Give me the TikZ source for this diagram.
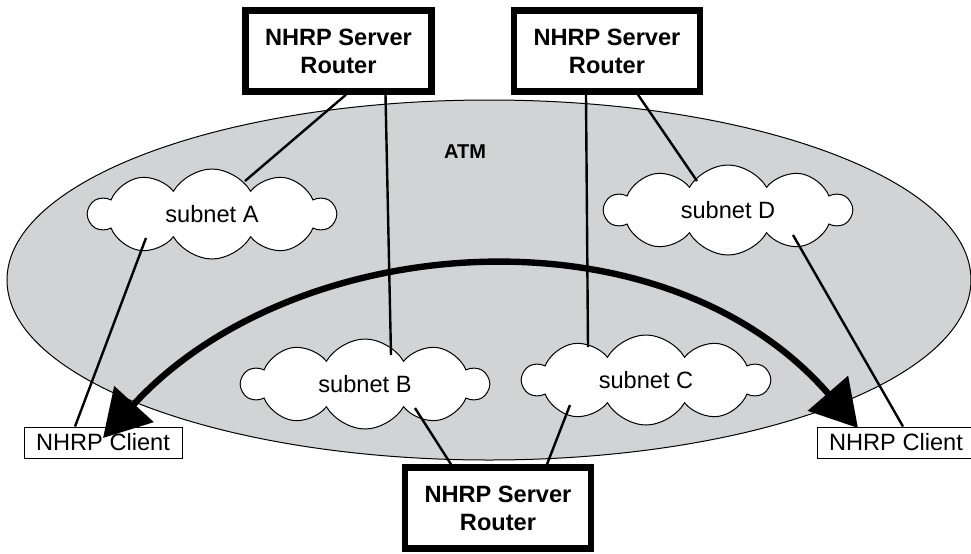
\documentclass[tikz,border=0pt]{standalone}
\usepackage{fontspec}
\setmainfont{Liberation Sans}
\usetikzlibrary{shapes.symbols,arrows.meta}
\definecolor{atmgray}{RGB}{209,211,212}

\begin{document}
\begin{tikzpicture}[x=0.5pt, y=-0.5pt,
    every node/.style={font=\fontsize{11.8}{14}\selectfont},
    server/.style={draw, line width=3.2pt, fill=white, minimum width=93pt, minimum height=40.5pt,
      align=center, font=\fontsize{11.8}{14}\selectfont\bfseries},
    subnet/.style={cloud, cloud puffs=10, cloud puff arc=120, cloud ignores aspect, draw,
      line width=0.5pt, fill=white, minimum width=123pt, minimum height=45pt},
    client/.style={draw, line width=0.5pt, fill=white, minimum width=79pt, minimum height=15.5pt, inner sep=0pt},
    link/.style={line width=1.2pt},
    bigarrow/.style={line width=3.2pt, <->, >={Triangle[length=23pt,width=26pt]}}]
  \useasboundingbox (0,0) rectangle (971,553);
  % ATM area
  \draw[line width=0.5pt, fill=atmgray] (489,280) ellipse [x radius=241pt, y radius=90pt];
  \node[font=\fontsize{10}{12}\selectfont\bfseries] (atm) at (465,152) {ATM};

  % servers
  \node[server] (srvAB) at (338.5,51) {NHRP Server\\Router};
  \node[server] (srvCD) at (607,51) {NHRP Server\\Router};
  \node[server] (srvBC) at (498,508) {NHRP Server\\Router};

  % subnets
  \node[subnet] (subA) at (212,214) {subnet A};
  \node[subnet] (subD) at (728,210) {subnet D};
  \node[subnet] (subB) at (365,384) {subnet B};
  \node[subnet] (subC) at (646,380) {subnet C};

  % clients
  \node[client] (cliL) at (103,442.5) {NHRP Client};
  \node[client] (cliR) at (896,442.5) {NHRP Client};

  % client to client
  \draw[bigarrow] ([shift={(0,-4.5)}]cliL.center) .. controls (293,230) and (662,202) .. ([shift={(-38,-14.5)}]cliR.center);

  % links
  \draw[link] ([shift={(7.5,0)}]srvAB.south) -- ([shift={(33,-33)}]subA.center);
  \draw[link] ([shift={(47,0)}]srvAB.south) -- ([shift={(26,-29)}]subB.center);
  \draw[link] ([shift={(-21,0)}]srvCD.south) -- ([shift={(-58,-33)}]subC.center);
  \draw[link] ([shift={(31,0)}]srvCD.south) -- ([shift={(-31,-29)}]subD.center);
  \draw[link] ([shift={(-66,24)}]subA.center) -- ([shift={(-28,0)}]cliL.north);
  \draw[link] ([shift={(65,25)}]subD.center) -- ([shift={(7,0)}]cliR.north);
  \draw[link] ([shift={(50,24)}]subB.center) -- ([shift={(-47,0)}]srvBC.north);
  \draw[link] ([shift={(-76,25)}]subC.center) -- ([shift={(49,0)}]srvBC.north);
\end{tikzpicture}
\end{document}
